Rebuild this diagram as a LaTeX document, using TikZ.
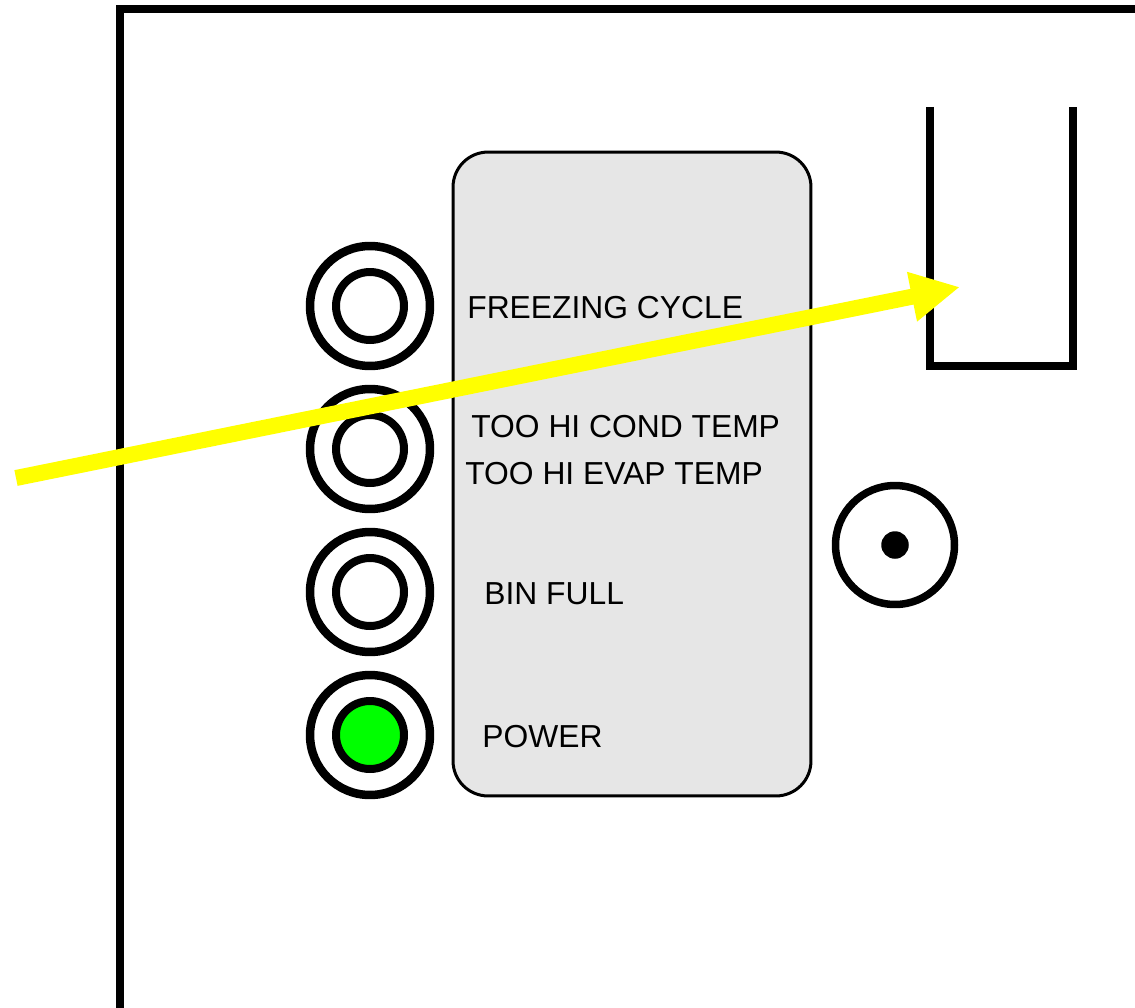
\documentclass[tikz,border=0pt]{standalone}
\usepackage{fontspec}
\setmainfont{Liberation Sans}
\usetikzlibrary{positioning, arrows.meta}
\definecolor{panelGrey}{HTML}{E6E6E6}
\definecolor{ledGreen}{HTML}{00FF00}
\definecolor{markYellow}{HTML}{FFFF00}

\begin{document}
\begin{tikzpicture}[x=0.02cm, y=-0.02cm,
    pnlFrame/.style={draw=black, line width=0.16cm, line join=miter},
    pnlSlot/.style={draw=black, line width=0.16cm, line join=miter},
    pnlBoard/.style={draw=black, line width=0.06cm, rectangle, rounded corners=0.7cm, fill=panelGrey, minimum width=7.16cm, minimum height=12.88cm, inner sep=0pt},
    pnlLedRing/.style={draw=black, line width=0.17cm, circle, fill=white, minimum size=2.4cm, inner sep=0pt},
    pnlLedLamp/.style={draw=black, line width=0.16cm, circle, fill=white, minimum size=1.36cm, inner sep=0pt},
    pnlLedOn/.style={pnlLedLamp, fill=ledGreen},
    pnlLabel/.style={anchor=west, inner sep=0pt, font=\fontsize{18.1}{21}\selectfont, text=black},
    pnlKnob/.style={draw=black, line width=0.15cm, circle, fill=white, minimum size=2.38cm, inner sep=0pt},
    pnlDot/.style={circle, fill=black, minimum size=0.55cm, inner sep=0pt},
    pnlArrow/.style={draw=markYellow, line width=0.32cm, -{Triangle[length=9.8mm, width=9.4mm]}},
]
\clip (0,0) rectangle (1135,1007);
\draw[pnlFrame] (120,1030) -- (120,9) -- (1150,9);
\draw[pnlSlot] (930,107) -- (930,366) -- (1073,366) -- (1073,107);
\node[pnlBoard] (board) at (632,474) {};
\node[pnlLedRing] (ledFreeze) at (370,306) {};
\node[pnlLedLamp] (ledFreezeIn) at (370,306) {};
\node[pnlLedRing] (ledTemp) at (370,449) {};
\node[pnlLedLamp] (ledTempIn) at (370,449) {};
\node[pnlLedRing] (ledBin) at (370,592) {};
\node[pnlLedLamp] (ledBinIn) at (370,592) {};
\node[pnlLedRing] (ledPower) at (370,735) {};
\node[pnlLedOn] (ledPowerIn) at (370,735) {};
\node[pnlLabel] (lblFreeze) at (467,308) {FREEZING CYCLE};
\node[pnlLabel] (lblCond) at (471,427) {TOO HI COND TEMP};
\node[pnlLabel] (lblEvap) at (465,474) {TOO HI EVAP TEMP};
\node[pnlLabel] (lblBin) at (484,594) {BIN FULL};
\node[pnlLabel] (lblPower) at (482,737) {POWER};
\node[pnlKnob] (knob) at (895,545) {};
\node[pnlDot] (knobDot) at (895,545) {};
\coordinate (arrTail) at (16,478);
\coordinate (arrTip) at (960,287);
\draw[pnlArrow] (arrTail) -- (arrTip);
\end{tikzpicture}
\end{document}
